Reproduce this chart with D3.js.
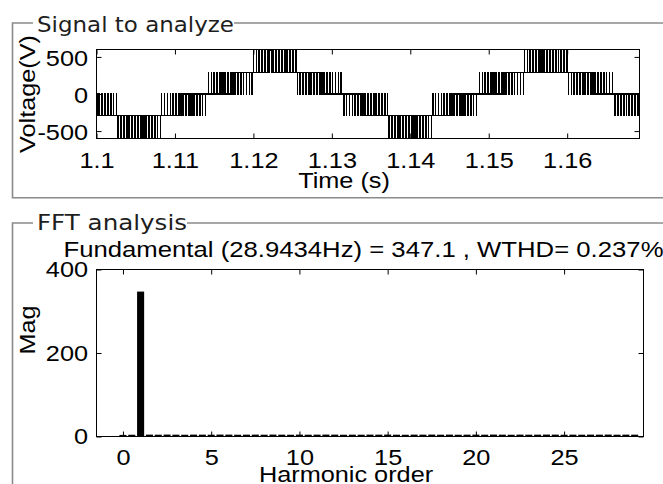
<!DOCTYPE html>
<html>
<head>
<meta charset="utf-8">
<script src="https://cdn.jsdelivr.net/npm/d3@7"></script>
<style>
  html, body { margin: 0; padding: 0; background: #fff; overflow: hidden; }
  svg { display: block; }
</style>
</head>
<body>
<svg id="fig" width="663" height="484"></svg>
<script>
// ---- Signal to analyze: five-level PWM voltage, two fundamental cycles ----
// Sector boundaries (s); each sector switches between an inner and an outer level.
const sectorEdges = [1.1, 1.10257, 1.10833, 1.11409, 1.11984, 1.1256, 1.13136,
                     1.13712, 1.14288, 1.14863, 1.15439, 1.16015, 1.16591, 1.16922];
const sectorInner = [0, -292, 0, 0, 288, 0, 0, -290, 0, 0, 292, 0, 0];
const sectorOuter = [-290, -588, -294, 286, 590, 290, -292, -586, -292, 290, 588, 288, -294];
// Fraction of each carrier period spent at the outer level.
const sectorDuty = [
  [0.56, 0.63, 0.7, 0.77, 0.83, 0.88, 0.93],
  [0.12, 0.18, 0.24, 0.3, 0.34, 0.37, 0.4, 0.42, 0.41, 0.39, 0.36, 0.32, 0.28, 0.23, 0.17, 0.11],
  [0.94, 0.89, 0.83, 0.77, 0.71, 0.65, 0.59, 0.53, 0.47, 0.41, 0.35, 0.29, 0.22, 0.16, 0.1, 0.04],
  [0.04, 0.1, 0.17, 0.23, 0.29, 0.35, 0.41, 0.47, 0.53, 0.6, 0.66, 0.72, 0.77, 0.83, 0.88, 0.93],
  [0.11, 0.17, 0.23, 0.28, 0.33, 0.37, 0.4, 0.41, 0.42, 0.4, 0.37, 0.33, 0.29, 0.24, 0.18, 0.12],
  [0.93, 0.88, 0.83, 0.77, 0.71, 0.65, 0.58, 0.52, 0.46, 0.4, 0.34, 0.28, 0.22, 0.16, 0.1, 0.05],
  [0.05, 0.11, 0.17, 0.23, 0.3, 0.36, 0.42, 0.48, 0.54, 0.6, 0.66, 0.71, 0.77, 0.83, 0.88, 0.94],
  [0.12, 0.18, 0.25, 0.3, 0.34, 0.38, 0.4, 0.42, 0.41, 0.39, 0.36, 0.32, 0.27, 0.22, 0.17, 0.11],
  [0.94, 0.89, 0.84, 0.78, 0.72, 0.65, 0.59, 0.53, 0.47, 0.41, 0.35, 0.28, 0.22, 0.16, 0.1, 0.05],
  [0.04, 0.1, 0.16, 0.23, 0.29, 0.35, 0.41, 0.47, 0.54, 0.6, 0.66, 0.71, 0.77, 0.82, 0.88, 0.93],
  [0.11, 0.18, 0.24, 0.29, 0.33, 0.37, 0.4, 0.41, 0.41, 0.39, 0.37, 0.33, 0.28, 0.23, 0.18, 0.12],
  [0.94, 0.88, 0.83, 0.77, 0.71, 0.65, 0.59, 0.52, 0.46, 0.4, 0.34, 0.28, 0.23, 0.17, 0.1, 0.04],
  [0.04, 0.1, 0.16, 0.23, 0.29, 0.35, 0.41, 0.47, 0.53]
];
const timeTicks  = [1.1, 1.11, 1.12, 1.13, 1.14, 1.15, 1.16];
const timeLabels = ["1.1", "1.11", "1.12", "1.13", "1.14", "1.15", "1.16"];
const voltTicks  = [-500, 0, 500];
const voltLabels = ["-500", "0", "500"];

// ---- FFT analysis: harmonic spectrum ----
const harmonicOrder = [0, 0.5, 1, 1.5, 2, 2.5, 3, 3.5, 4, 4.5, 5, 5.5, 6, 6.5, 7, 7.5,
  8, 8.5, 9, 9.5, 10, 10.5, 11, 11.5, 12, 12.5, 13, 13.5, 14, 14.5, 15, 15.5, 16, 16.5,
  17, 17.5, 18, 18.5, 19, 19.5, 20, 20.5, 21, 21.5, 22, 22.5, 23, 23.5, 24, 24.5, 25,
  25.5, 26, 26.5, 27, 27.5, 28, 28.5, 29];
const harmonicMag = [3.8, 4.2, 347.1, 4.5, 4.3, 4.6, 4.4, 4.2, 4.5, 4.4, 4.3, 4.6, 4.5,
  4.2, 4.4, 4.5, 4.3, 4.6, 4.4, 4.2, 4.5, 4.3, 4.4, 4.6, 4.5, 4.2, 4.4, 4.3, 4.5, 4.4,
  4.6, 4.3, 4.2, 4.5, 4.4, 4.6, 4.3, 4.5, 4.2, 4.4, 4.5, 4.3, 4.6, 4.4, 4.2, 4.5, 4.3,
  4.4, 4.6, 4.5, 4.2, 4.4, 4.3, 4.5, 4.4, 4.6, 4.3, 4.5, 4.4];
const orderTicks = [0, 5, 10, 15, 20, 25];
const magTicks   = [0, 200, 400];
const fftTitle   = "Fundamental (28.9434Hz) = 347.1 , WTHD= 0.237%";

// ---------------------------------------------------------------------------
const svg  = d3.select("#fig");
const FONT = "'Liberation Sans', Arial, Helvetica, sans-serif";
const SX   = 1.15;   // wide glyph proportions of the plot font

function txt(x, y, s, opts = {}) {
  return svg.append("text")
    .attr("transform", `translate(${x},${y})${opts.rotate ? " rotate(-90)" : ""} scale(${opts.sx || SX},1)`)
    .attr("font-family", opts.font || FONT)
    .attr("font-size", opts.size || 22)
    .attr("fill", opts.fill || "#000")
    .attr("text-anchor", opts.anchor || "middle")
    .text(s);
}

// Panel frames (group boxes)
const frame = svg.append("g").attr("fill", "none").attr("stroke", "#8a8a8a").attr("stroke-width", 1.6);
frame.append("path").attr("d", "M33,23 H12.5 V197.8 H663");
frame.append("path").attr("d", "M234,23 H663");
frame.append("path").attr("d", "M33,223 H12.5 V484");
frame.append("path").attr("d", "M187,223 H663");

const GROUP_FONT = "'DejaVu Sans', Tahoma, sans-serif";
svg.append("text").attr("x", 37).attr("y", 31.5)
  .attr("font-family", GROUP_FONT).attr("font-size", 21).attr("fill", "#1e1e1e")
  .attr("textLength", 197).attr("lengthAdjust", "spacingAndGlyphs")
  .text("Signal to analyze");
svg.append("text").attr("x", 37).attr("y", 229.5)
  .attr("font-family", GROUP_FONT).attr("font-size", 21).attr("fill", "#1e1e1e")
  .attr("textLength", 150).attr("lengthAdjust", "spacingAndGlyphs")
  .text("FFT analysis");

// ---------------- Signal axes ----------------
const tL = 96.5, tR = 639.5, tT = 49.5, tB = 138.5;
const xT = d3.scaleLinear().domain([1.1, 1.16922]).range([tL, tR]);
const yT = d3.scaleLinear().domain([-600, 600]).range([tB, tT]);

svg.append("clipPath").attr("id", "clipT")
  .append("rect").attr("x", tL).attr("y", tT).attr("width", tR - tL).attr("height", tB - tT);

// Build the switched waveform from the sector tables
const pts = [];
sectorDuty.forEach((duties, s) => {
  const t0 = sectorEdges[s], t1 = sectorEdges[s + 1];
  const p = (t1 - t0) / duties.length;
  const vi = sectorInner[s], vo = sectorOuter[s];
  pts.push([t0, vi]);
  duties.forEach((d, i) => {
    const c = t0 + (i + 0.5) * p, h = d * p / 2;
    pts.push([c - h, vi], [c - h, vo], [c + h, vo], [c + h, vi]);
  });
  pts.push([t1, vi]);
});

svg.append("path")
  .datum(pts)
  .attr("clip-path", "url(#clipT)")
  .attr("fill", "none")
  .attr("stroke", "#000")
  .attr("stroke-width", 1.1)
  .attr("shape-rendering", "crispEdges")
  .attr("d", d3.line().x(d => xT(d[0])).y(d => yT(d[1])));

function axisGroup(gen, tx, ty) {
  const g = svg.append("g").attr("transform", `translate(${tx},${ty})`).call(gen);
  g.attr("font-family", FONT).attr("font-size", 22);
  g.select(".domain").remove();
  g.selectAll(".tick line").attr("stroke", "#000");
  return g;
}

const gxT = axisGroup(d3.axisBottom(xT).tickValues(timeTicks).tickSize(-5)
  .tickFormat((d, i) => timeLabels[i]), 0, tB);
gxT.selectAll(".tick text").attr("y", 29.8).attr("dy", null).attr("fill", "#000")
  .attr("transform", `scale(${SX},1)`);
axisGroup(d3.axisTop(xT).tickValues(timeTicks).tickSize(-5).tickFormat(""), 0, tT);
const gyT = axisGroup(d3.axisLeft(yT).tickValues(voltTicks).tickSize(-5)
  .tickFormat((d, i) => voltLabels[i]), tL, 0);
gyT.selectAll(".tick text").attr("x", -8.5 / SX).attr("y", 8.7).attr("dy", null)
  .attr("fill", "#000").attr("transform", `scale(${SX},1)`);
axisGroup(d3.axisRight(yT).tickValues(voltTicks).tickSize(-5).tickFormat(""), tR, 0);

svg.append("rect").attr("x", tL).attr("y", tT).attr("width", tR - tL).attr("height", tB - tT)
  .attr("fill", "none").attr("stroke", "#000").attr("stroke-width", 1);

txt(344, 187.5, "Time (s)");
txt(34.5, 94, "Voltage(V)", { rotate: true });

// ---------------- FFT axes ----------------
const fL = 96.5, fR = 643.5, fT = 269.5, fB = 436.5;
const xF = d3.scaleLinear().domain([-1.5, 29.5]).range([fL, fR]);
const yF = d3.scaleLinear().domain([0, 400]).range([fB, fT]);
const barW = xF(0.2) - xF(-0.2);

svg.append("g").selectAll("rect")
  .data(harmonicOrder.map((h, i) => ({ h, m: harmonicMag[i] })))
  .join("rect")
  .attr("x", d => xF(d.h) - barW / 2)
  .attr("y", d => yF(d.m))
  .attr("width", barW)
  .attr("height", d => yF(0) - yF(d.m))
  .attr("fill", "#000");

const gxF = axisGroup(d3.axisBottom(xF).tickValues(orderTicks).tickSize(-5), 0, fB);
gxF.selectAll(".tick text").attr("y", 28.5).attr("dy", null).attr("fill", "#000")
  .attr("transform", `scale(${SX},1)`);
axisGroup(d3.axisTop(xF).tickValues(orderTicks).tickSize(-5).tickFormat(""), 0, fT);
const gyF = axisGroup(d3.axisLeft(yF).tickValues(magTicks).tickSize(-5), fL, 0);
gyF.selectAll(".tick text").attr("x", -8.5 / SX).attr("y", 7).attr("dy", null)
  .attr("fill", "#000").attr("transform", `scale(${SX},1)`);
axisGroup(d3.axisRight(yF).tickValues(magTicks).tickSize(-5).tickFormat(""), fR, 0);

svg.append("rect").attr("x", fL).attr("y", fT).attr("width", fR - fL).attr("height", fB - fT)
  .attr("fill", "none").attr("stroke", "#000").attr("stroke-width", 1);

svg.append("text").attr("x", 63.5).attr("y", 257)
  .attr("font-family", FONT).attr("font-size", 22).attr("fill", "#000")
  .attr("textLength", 600).attr("lengthAdjust", "spacingAndGlyphs")
  .text(fftTitle);

txt(346, 482, "Harmonic order");
txt(34.5, 330, "Mag", { rotate: true });
</script>
</body>
</html>
